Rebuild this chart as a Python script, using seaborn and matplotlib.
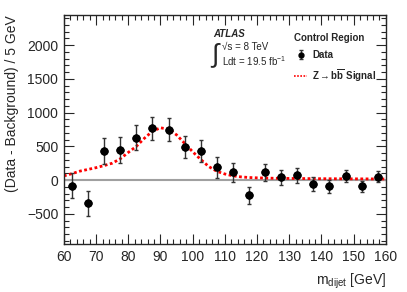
import matplotlib
matplotlib.use("Agg")
import matplotlib.pyplot as plt
import matplotlib.ticker as ticker
from matplotlib.lines import Line2D
import numpy as np
import pandas as pd
import seaborn as sns

# data points (bin centres, data - background, stat. error)
mass = [62.5, 67.5, 72.5, 77.5, 82.5, 87.5, 92.5, 97.5, 102.5, 107.5,
        112.5, 117.5, 122.5, 127.5, 132.5, 137.5, 142.5, 147.5, 152.5, 157.5]
excess = [-85, -345, 428, 447, 630, 767, 745, 485, 428, 187,
          113, -226, 113, 40, 69, -59, -93, 54, -93, 49]
error = [185, 190, 190, 190, 180, 175, 170, 165, 160, 150,
         140, 130, 125, 115, 110, 100, 100, 90, 85, 85]

# Z->bb signal curve
sig_mass = [60, 62.5, 65, 67.5, 70, 72.5, 75, 77.5, 80, 82.5, 85, 87.5,
            90, 92.5, 95, 97.5, 100, 102.5, 105, 107.5, 110, 112.5, 115,
            117.5, 120, 125, 130, 135, 140, 145, 150, 155, 160]
sig_value = [62, 95, 133, 158, 184, 215, 250, 315, 410, 500, 620, 725,
             775, 755, 670, 545, 420, 305, 200, 130, 90, 63, 47,
             38, 33, 27, 24, 22, 20, 19, 18, 17, 16]


def main():
    sns.set_style("ticks")
    plt.rcParams['font.family'] = ['Liberation Sans', 'DejaVu Sans']
    plt.rcParams['mathtext.fontset'] = 'custom'
    plt.rcParams['mathtext.rm'] = 'Liberation Sans'
    plt.rcParams['mathtext.it'] = 'Liberation Sans:italic'
    plt.rcParams['mathtext.bf'] = 'Liberation Sans:bold'

    df_data = pd.DataFrame({'m': mass, 'y': excess, 'err': error})
    df_sig = pd.DataFrame({'m': sig_mass, 'y': sig_value})

    fig = plt.figure(figsize=(4.07, 2.92), dpi=100)
    ax = fig.add_axes([0.157, 0.164, 0.791, 0.785])

    ax.axhline(0, color='#a0a0a0', lw=1.5, zorder=1)

    sns.lineplot(data=df_sig, x='m', y='y', ax=ax, color='red',
                 linestyle=(0, (1, 0.9)), lw=2, zorder=2)
    bars = ax.errorbar(df_data['m'], df_data['y'], yerr=df_data['err'],
                       fmt='o', color='black', ms=5, elinewidth=1,
                       ecolor='#333333', capsize=1.5, zorder=3)
    sns.scatterplot(data=df_data, x='m', y='y', ax=ax, color='black',
                    s=28, edgecolor='black', zorder=4)

    ax.set_xlim(60, 160)
    ax.set_ylim(-950, 2450)
    ax.xaxis.set_major_locator(ticker.MultipleLocator(10))
    ax.xaxis.set_minor_locator(ticker.MultipleLocator(2))
    ax.yaxis.set_major_locator(ticker.MultipleLocator(500))
    ax.yaxis.set_minor_locator(ticker.MultipleLocator(100))
    ax.tick_params(which='both', direction='in', top=True, right=True,
                   labelsize=10, width=0.8, pad=4)
    ax.tick_params(which='major', length=7)
    ax.tick_params(which='minor', length=3.5)
    for sp in ax.spines.values():
        sp.set_linewidth(1)

    ax.set_xlabel(r'm$_{\mathrm{dijet}}$ [GeV]', fontsize=10, loc='right',
                  labelpad=6)
    ax.set_ylabel('(Data - Background) / 5 GeV', fontsize=10, loc='top',
                  labelpad=6)

    # ATLAS label
    fig.text(229 / 407, 1 - 34 / 292, 'ATLAS', fontsize=7, weight='bold',
             style='italic', ha='center', va='center')
    fig.text(222 / 407, 1 - 47 / 292, '\u221as = 8 TeV', fontsize=7,
             ha='left', va='center')
    fig.text(211 / 407, 1 - 55 / 292, '\u222b', fontsize=19,
             ha='left', va='center')
    fig.text(222 / 407, 1 - 61 / 292, r'Ldt = 19.5 fb$^{-1}$', fontsize=7,
             ha='left', va='center')

    sig_handle = Line2D([], [], color='red', linestyle=(0, (1, 0.9)), lw=1.2)
    ax.legend([bars, sig_handle],
              ['Data', r'Z$\rightarrow$b$\overline{\mathbf{b}}$ Signal'],
              title='Control Region', loc='upper left',
              bbox_to_anchor=(285 / 407, 1 - 24 / 292),
              bbox_transform=fig.transFigure, frameon=False,
              prop={'size': 7, 'weight': 'bold'},
              title_fontproperties={'size': 7, 'weight': 'bold'},
              handlelength=1.4, handletextpad=0.5, labelspacing=0.75,
              markerscale=0.7, alignment='left')

    fig.savefig('out.png', dpi=100)


if __name__ == "__main__":
    main()
